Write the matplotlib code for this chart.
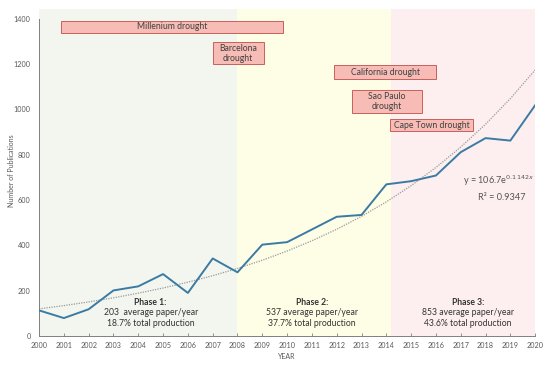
import numpy as np
import matplotlib
matplotlib.use("Agg")
import matplotlib.pyplot as plt
from matplotlib.patches import Rectangle

plt.rcParams["font.family"] = ["Lato", "DejaVu Sans"]

# data
years = list(range(2000, 2021))
publications = [113, 79, 118, 201, 219, 273, 190, 342, 281, 403, 414,
                470, 526, 534, 669, 683, 708, 811, 873, 862, 1018]
trend_a = 106.7
trend_b = 0.1142

phase_edges = [2000, 2008, 2014.2, 2020]
phase_colors = ["#f2f6ef", "#fefde6", "#fdeff0"]
phase_names = ["Phase 1:", "Phase 2:", "Phase 3:"]
phase_avg = ["203  average paper/year", "537 average paper/year", "853 average paper/year"]
phase_share = ["18.7% total production", "37.7% total production", "43.6% total production"]
phase_text_x = [2004.5, 2011.0, 2017.3]

droughts = ["Millenium drought", "Barcelona\ndrought", "California drought",
            "Sao Paulo\ndrought", "Cape Town drought"]
drought_x0 = [2000.9, 2007.0, 2011.9, 2012.6, 2014.15]
drought_x1 = [2009.85, 2009.05, 2016.0, 2015.45, 2017.5]
drought_y0 = [1338, 1200, 1134, 982, 903]
drought_y1 = [1391, 1296, 1194, 1085, 956]

fig = plt.figure(figsize=(5.5, 3.66), dpi=100)
ax = fig.add_axes([0.071, 0.082, 0.902, 0.893])
ax.set_xlim(2000, 2020)
ax.set_ylim(0, 1442)

# phase backgrounds
for i in range(3):
    ax.axvspan(phase_edges[i], phase_edges[i + 1], color=phase_colors[i], zorder=0, lw=0)

# trendline from the stated equation
idx = np.arange(1, len(years) + 1)
ax.plot(years, trend_a * np.exp(trend_b * idx), color="#9a9a9a", lw=0.9,
        ls=(0, (1, 1)), zorder=2)
ax.plot(years, publications, color="#3b7ba3", lw=1.4, zorder=3)

# drought boxes
for name, x0, x1, y0, y1 in zip(droughts, drought_x0, drought_x1, drought_y0, drought_y1):
    ax.add_patch(Rectangle((x0, y0), x1 - x0, y1 - y0, facecolor="#f6bcb5",
                           edgecolor="#c9605a", lw=0.7, zorder=4))
    ax.text((x0 + x1) / 2, (y0 + y1) / 2, name, ha="center", va="center",
            fontsize=6.2, color="#404040", zorder=5, linespacing=1.15)

for i in range(3):
    ax.text(phase_text_x[i], 149, phase_names[i], ha="center", va="center",
            fontsize=6.2, fontweight="bold", color="#333333")
    ax.text(phase_text_x[i], 104, phase_avg[i], ha="center", va="center",
            fontsize=6.2, color="#333333")
    ax.text(phase_text_x[i], 57, phase_share[i], ha="center", va="center",
            fontsize=6.2, color="#333333")

ax.text(2019.95, 685, r"y = 106.7e$^{0.1142x}$", ha="right", va="center",
        fontsize=6.6, color="#555555")
ax.text(2019.6, 611, "R² = 0.9347", ha="right", va="center",
        fontsize=6.6, color="#555555")

ax.set_xticks(years)
ax.set_yticks(range(0, 1401, 200))
ax.tick_params(axis="x", direction="in", length=2.5, width=0.6, color="#808080",
               labelsize=5.2, labelcolor="#595959", pad=4)
ax.tick_params(axis="y", length=0, labelsize=5.2, labelcolor="#595959", pad=6)
for s in ["top", "right"]:
    ax.spines[s].set_visible(False)
ax.spines["left"].set_bounds(0, 1400)
ax.spines["left"].set_color("#808080")
ax.spines["bottom"].set_color("#808080")
ax.spines["left"].set_linewidth(0.7)
ax.spines["bottom"].set_linewidth(0.7)
ax.set_xlabel("YEAR", fontsize=5, color="#595959", labelpad=3)
fig.text(0.021, 0.535, "Number of Publications", rotation=90, ha="center",
         va="center", fontsize=5, color="#595959")

fig.savefig("out.png", dpi=100)
